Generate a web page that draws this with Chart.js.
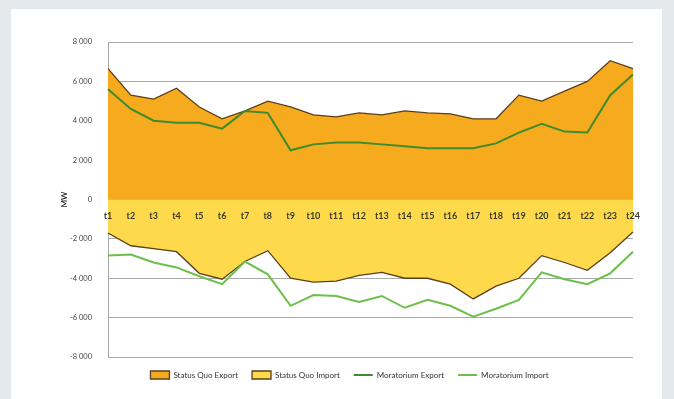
<!DOCTYPE html>
<html>
<head>
<meta charset="utf-8">
<script src="https://cdn.jsdelivr.net/npm/chart.js@4"></script>
<style>
  html, body { margin: 0; padding: 0; background: #e4e9ed; }
  #panel { position: absolute; left: 11px; top: 9px; width: 651px; height: 400px; background: #fff; }
  #wrap { position: absolute; left: 0; top: 0; width: 674px; height: 399px; }
</style>
</head>
<body>
<div id="panel"></div>
<div id="wrap"><canvas id="chart" width="674" height="399"></canvas></div>
<script>
const hours = ["t1","t2","t3","t4","t5","t6","t7","t8","t9","t10","t11","t12",
               "t13","t14","t15","t16","t17","t18","t19","t20","t21","t22","t23","t24"];

const statusQuoExport = [6650, 5300, 5100, 5650, 4700, 4100, 4500, 5000, 4700, 4300, 4200, 4400,
                         4300, 4500, 4400, 4350, 4100, 4100, 5300, 5000, 5500, 6000, 7050, 6650];
const statusQuoImport = [-1700, -2350, -2500, -2650, -3750, -4050, -3150, -2600, -4000, -4200, -4150, -3850,
                         -3700, -4000, -4000, -4300, -5050, -4400, -4000, -2850, -3200, -3600, -2700, -1650];
const moratoriumExport = [5600, 4600, 4000, 3900, 3900, 3600, 4500, 4400, 2500, 2800, 2900, 2900,
                          2800, 2700, 2600, 2600, 2600, 2850, 3400, 3850, 3450, 3400, 5300, 6350];
const moratoriumImport = [-2850, -2800, -3200, -3450, -3900, -4300, -3150, -3800, -5400, -4850, -4900, -5200,
                          -4900, -5500, -5100, -5400, -5950, -5550, -5100, -3700, -4050, -4300, -3750, -2650];

const yTicks = [-8000, -6000, -4000, -2000, 0, 2000, 4000, 6000, 8000];

const FONT = "Lato, 'Liberation Sans', sans-serif";

new Chart(document.getElementById("chart").getContext("2d"), {
  type: "line",
  data: {
    labels: hours,
    datasets: [
      {
        label: "Status Quo Export",
        data: statusQuoExport,
        fill: "origin",
        backgroundColor: "#f6aa1e",
        borderColor: "#5b3f1c",
        borderWidth: 1.3,
        pointRadius: 0,
        pointStyle: "rect",
        order: 2
      },
      {
        label: "Status Quo Import",
        data: statusQuoImport,
        fill: "origin",
        backgroundColor: "#fed94c",
        borderColor: "#5b3f1c",
        borderWidth: 1.3,
        pointRadius: 0,
        pointStyle: "rect",
        order: 2
      },
      {
        label: "Moratorium Export",
        data: moratoriumExport,
        fill: false,
        borderColor: "#3d8b2c",
        backgroundColor: "#3d8b2c",
        borderWidth: 2,
        pointRadius: 0,
        pointStyle: "line",
        order: 1
      },
      {
        label: "Moratorium Import",
        data: moratoriumImport,
        fill: false,
        borderColor: "#6dbf4b",
        backgroundColor: "#6dbf4b",
        borderWidth: 2,
        pointRadius: 0,
        pointStyle: "line",
        order: 1
      }
    ]
  },
  options: {
    responsive: false,
    animation: false,
    layout: { padding: { left: 66, right: 41, top: 42, bottom: 10 } },
    plugins: {
      legend: {
        position: "bottom",
        labels: {
          usePointStyle: true,
          pointStyleWidth: 19,
          boxHeight: 8,
          padding: 14,
          color: "#333",
          font: { family: FONT, size: 8 },
          sort: (a, b) => a.datasetIndex - b.datasetIndex
        }
      },
      tooltip: { enabled: false }
    },
    scales: {
      x: {
        type: "category",
        position: { y: 0 },
        offset: false,
        grid: { display: false },
        border: { display: false },
        ticks: {
          z: 1,
          color: "#3a3a2a",
          padding: 3,
          maxRotation: 0,
          autoSkip: false,
          font: { family: FONT, size: 9, weight: "bold" }
        }
      },
      y: {
        min: -8000,
        max: 8000,
        afterBuildTicks: s => { s.ticks = yTicks.map(v => ({ value: v })); },
        afterFit: s => { s.width = 42; },
        grid: { color: "#a9a9a9", lineWidth: 1, drawTicks: false },
        border: { display: true, color: "#a9a9a9" },
        ticks: {
          color: "#444",
          padding: 16,
          font: { family: FONT, size: 7.5 },
          callback: v => (v < 0 ? "-" : "") + Math.abs(v).toLocaleString("en-US").replace(",", " ")
        },
        title: {
          display: true,
          text: "MW",
          color: "#333",
          padding: { top: -6, bottom: 0 },
          font: { family: FONT, size: 8, weight: "bold" }
        }
      }
    }
  }
});
</script>
</body>
</html>
